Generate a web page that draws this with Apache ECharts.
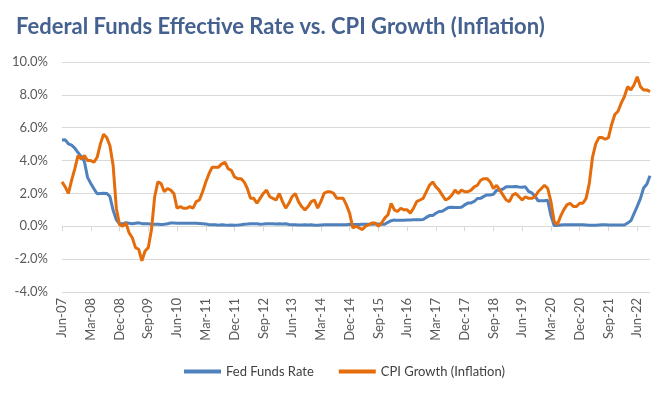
<!DOCTYPE html>
<html lang="en">
<head>
  <meta charset="UTF-8">
  <title>Federal Funds Effective Rate vs. CPI Growth (Inflation)</title>
  <script src="https://cdn.jsdelivr.net/npm/echarts@6/dist/echarts.min.js"></script>
  <style>
    html, body { margin: 0; padding: 0; background: #ffffff; }
    #chart { width: 668px; height: 397px; }
  </style>
</head>
<body>
  <div id="chart"></div>
  <script>
    // month labels, Jun-07 .. Oct-22
    const monthNames = ['Jan', 'Feb', 'Mar', 'Apr', 'May', 'Jun', 'Jul', 'Aug', 'Sep', 'Oct', 'Nov', 'Dec'];
    const startYear = 2007, startMonth = 5, monthCount = 185;
    const months = [];
    for (let i = 0; i < monthCount; i++) {
      const m = startMonth + i;
      const y = startYear + Math.floor(m / 12);
      months.push(monthNames[m % 12] + '-' + String(y % 100).padStart(2, '0'));
    }

    const yTicks = [-4, -2, 0, 2, 4, 6, 8, 10];

    // Fed Funds effective rate (%), one row per year
    const fedFunds = [
      5.25, 5.26, 5.02, 4.94, 4.76, 4.49, 4.24,
      3.94, 2.98, 2.61, 2.28, 1.98, 2.00, 2.01, 2.00, 1.81, 0.97, 0.39, 0.16,
      0.15, 0.22, 0.18, 0.15, 0.18, 0.21, 0.16, 0.16, 0.15, 0.12, 0.12, 0.12,
      0.11, 0.13, 0.16, 0.20, 0.20, 0.18, 0.18, 0.19, 0.19, 0.19, 0.19, 0.18,
      0.17, 0.16, 0.14, 0.10, 0.09, 0.09, 0.07, 0.10, 0.08, 0.07, 0.08, 0.07,
      0.08, 0.10, 0.13, 0.14, 0.16, 0.16, 0.16, 0.13, 0.14, 0.16, 0.16, 0.16,
      0.14, 0.15, 0.14, 0.15, 0.11, 0.09, 0.09, 0.08, 0.08, 0.09, 0.08, 0.09,
      0.07, 0.07, 0.08, 0.09, 0.09, 0.10, 0.09, 0.09, 0.09, 0.09, 0.09, 0.12,
      0.11, 0.11, 0.11, 0.12, 0.12, 0.13, 0.13, 0.14, 0.14, 0.12, 0.12, 0.24,
      0.34, 0.38, 0.36, 0.37, 0.37, 0.38, 0.39, 0.40, 0.40, 0.40, 0.41, 0.54,
      0.65, 0.66, 0.79, 0.90, 0.91, 1.04, 1.15, 1.16, 1.15, 1.15, 1.16, 1.30,
      1.41, 1.42, 1.51, 1.69, 1.70, 1.82, 1.91, 1.91, 1.95, 2.19, 2.20, 2.27,
      2.40, 2.40, 2.41, 2.42, 2.39, 2.38, 2.40, 2.13, 2.04, 1.83, 1.55, 1.55,
      1.55, 1.58, 0.65, 0.05, 0.05, 0.08, 0.09, 0.10, 0.09, 0.09, 0.09, 0.09,
      0.09, 0.08, 0.07, 0.07, 0.06, 0.08, 0.10, 0.09, 0.08, 0.08, 0.08, 0.08,
      0.08, 0.08, 0.20, 0.33, 0.77, 1.21, 1.68, 2.33, 2.56, 3.08
    ];

    // CPI year-over-year growth (%), one row per year
    const cpiGrowth = [
      2.7, 2.4, 2.0, 2.8, 3.5, 4.3, 4.1,
      4.3, 4.0, 4.0, 3.9, 4.2, 5.0, 5.6, 5.4, 4.9, 3.7, 1.1, 0.1,
      0.0, 0.2, -0.4, -0.7, -1.3, -1.4, -2.1, -1.5, -1.3, -0.2, 1.8, 2.7,
      2.6, 2.1, 2.3, 2.2, 2.0, 1.1, 1.2, 1.1, 1.1, 1.2, 1.1, 1.5,
      1.6, 2.1, 2.7, 3.2, 3.6, 3.6, 3.6, 3.8, 3.9, 3.5, 3.4, 3.0,
      2.9, 2.9, 2.7, 2.3, 1.7, 1.7, 1.4, 1.7, 2.0, 2.2, 1.8, 1.7,
      1.6, 2.0, 1.5, 1.1, 1.4, 1.8, 2.0, 1.5, 1.2, 1.0, 1.2, 1.5,
      1.6, 1.1, 1.5, 2.0, 2.1, 2.1, 2.0, 1.7, 1.7, 1.7, 1.3, 0.8,
      -0.1, 0.0, -0.1, -0.2, 0.0, 0.1, 0.2, 0.2, 0.0, 0.2, 0.5, 0.7,
      1.4, 1.0, 0.9, 1.1, 1.0, 1.0, 0.8, 1.1, 1.5, 1.6, 1.7, 2.1,
      2.5, 2.7, 2.4, 2.2, 1.9, 1.6, 1.7, 1.9, 2.2, 2.0, 2.2, 2.1,
      2.1, 2.2, 2.4, 2.5, 2.8, 2.9, 2.9, 2.7, 2.3, 2.5, 2.2, 1.9,
      1.6, 1.5, 1.9, 2.0, 1.8, 1.6, 1.8, 1.7, 1.7, 1.8, 2.1, 2.3,
      2.5, 2.3, 1.5, 0.3, 0.1, 0.6, 1.0, 1.3, 1.4, 1.2, 1.2, 1.4,
      1.4, 1.7, 2.6, 4.2, 5.0, 5.4, 5.4, 5.3, 5.4, 6.2, 6.8, 7.0,
      7.5, 7.9, 8.5, 8.3, 8.6, 9.1, 8.5, 8.3, 8.3, 8.2
    ];

    const seriesNames = ['Fed Funds Rate', 'CPI Growth (Inflation)'];
    const seriesColors = ['#4f81bd', '#e46c0a'];

    const chart = echarts.init(document.getElementById('chart'));
    const font = 'Lato, "Open Sans", sans-serif';

    chart.setOption({
      backgroundColor: '#ffffff',
      animation: false,
      textStyle: { fontFamily: font },
      title: {
        text: 'Federal Funds Effective Rate vs. CPI Growth (Inflation)',
        left: 11,
        top: 11,
        textStyle: { fontFamily: font, fontSize: 22, fontWeight: 'bold', color: '#44618f' }
      },
      legend: {
        data: seriesNames,
        left: 179,
        top: 360,
        icon: 'rect',
        itemWidth: 37,
        itemHeight: 4,
        itemGap: 25,
        textStyle: { fontFamily: font, fontSize: 13, color: '#404040', padding: [0, 0, 0, 0] }
      },
      grid: { left: 62, right: 18, top: 62, bottom: 105, containLabel: false },
      xAxis: [
        {
          type: 'category',
          data: months,
          boundaryGap: false,
          position: 'bottom',
          axisLine: { show: false, onZero: false },
          axisTick: { show: false },
          axisLabel: { interval: 8, rotate: 90, margin: 6, fontSize: 13, color: '#595959', fontFamily: font }
        },
        {
          type: 'category',
          data: months,
          boundaryGap: false,
          position: 'bottom',
          axisLine: { show: true, onZero: true, lineStyle: { color: '#d9d9d9', width: 1 } },
          axisTick: { show: true, interval: 8, length: 5, lineStyle: { color: '#d9d9d9' } },
          axisLabel: { show: false }
        }
      ],
      yAxis: {
        type: 'value',
        min: yTicks[0],
        max: yTicks[yTicks.length - 1],
        interval: 2,
        axisLine: { show: false },
        axisTick: { show: false },
        splitLine: { lineStyle: { color: '#d9d9d9', width: 1 } },
        axisLabel: {
          margin: 14,
          fontSize: 13,
          color: '#595959',
          fontFamily: font,
          formatter: v => v.toFixed(1) + '%'
        }
      },
      series: [
        {
          name: seriesNames[0],
          type: 'line',
          xAxisIndex: 0,
          data: fedFunds,
          symbol: 'none',
          lineStyle: { color: seriesColors[0], width: 3 },
          itemStyle: { color: seriesColors[0] }
        },
        {
          name: seriesNames[1],
          type: 'line',
          xAxisIndex: 0,
          data: cpiGrowth,
          symbol: 'none',
          lineStyle: { color: seriesColors[1], width: 3 },
          itemStyle: { color: seriesColors[1] }
        }
      ]
    });
  </script>
</body>
</html>
